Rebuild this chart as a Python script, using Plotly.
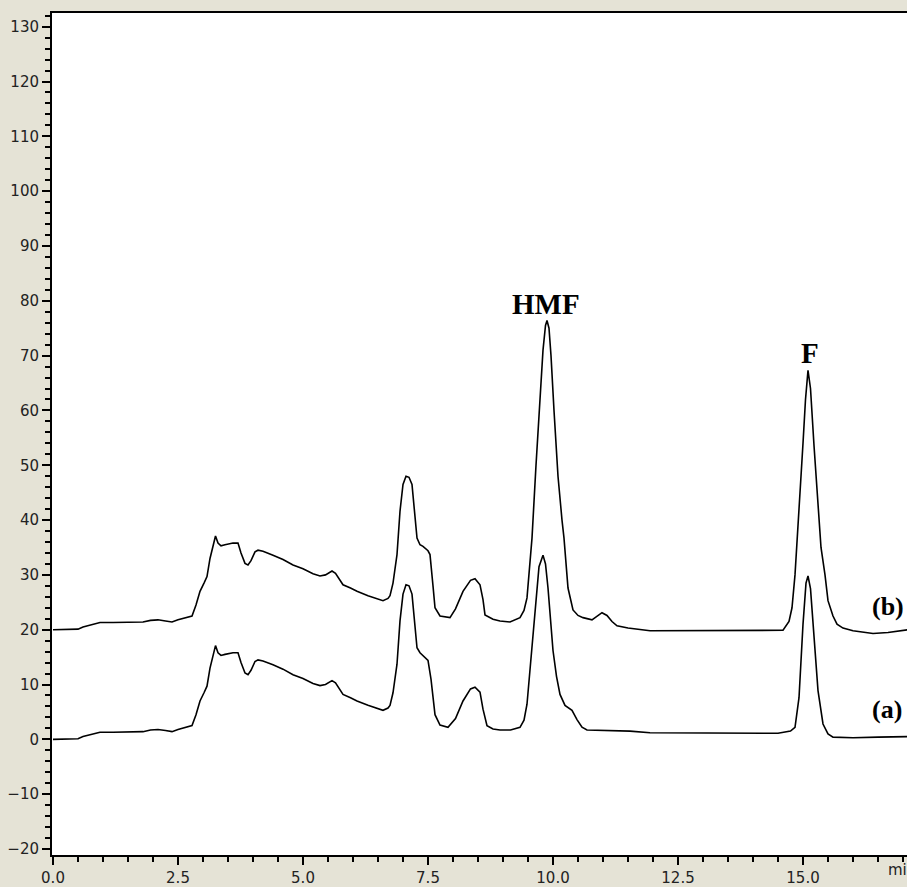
import plotly.graph_objects as go

# Retention time (min) and detector response for sample (a)
time_a = [0.0, 0.5, 0.6, 0.75, 0.94, 1.2, 1.5, 1.8, 1.95, 2.1, 2.25, 2.38, 2.5, 2.64, 2.78,
          2.86, 2.94, 3.02, 3.08, 3.14, 3.2, 3.25, 3.3, 3.36, 3.44, 3.6, 3.7, 3.76, 3.84, 3.9,
          3.96, 4.04, 4.1, 4.2, 4.4, 4.6, 4.8, 5.0, 5.2, 5.34, 5.45, 5.58, 5.65, 5.8, 5.95,
          6.08, 6.3, 6.5, 6.6, 6.7, 6.74, 6.8, 6.88, 6.94, 7.0, 7.06, 7.12, 7.18, 7.24, 7.28,
          7.34, 7.4, 7.5, 7.56, 7.64, 7.74, 7.9, 8.05, 8.2, 8.35, 8.44, 8.54, 8.6, 8.68, 8.8,
          8.94, 9.15, 9.34, 9.42, 9.48, 9.56, 9.64, 9.72, 9.8, 9.85, 9.9, 9.95, 10.0, 10.07,
          10.14, 10.24, 10.38, 10.48, 10.58, 10.68, 11.0, 11.54, 11.94, 12.5, 13.0, 13.5, 14.0,
          14.5, 14.75, 14.84, 14.92, 15.0, 15.06, 15.1, 15.15, 15.2, 15.3, 15.4, 15.5, 15.6,
          16.0, 16.5, 17.1]
signal_a = [0.0, 0.1, 0.5, 0.9, 1.3, 1.3, 1.3, 1.4, 1.7, 1.8, 1.6, 1.4, 1.8, 2.2, 2.5,
            4.5, 7.0, 8.5, 9.7, 13.0, 15.5, 17.1, 15.8, 15.3, 15.5, 15.8, 15.8, 14.0, 12.1, 11.8,
            12.6, 14.2, 14.5, 14.3, 13.6, 12.8, 11.8, 11.1, 10.2, 9.8, 10.0, 10.7, 10.3, 8.2, 7.6,
            7.0, 6.2, 5.6, 5.3, 5.7, 6.2, 8.5, 13.7, 21.6, 26.5, 28.2, 28.0, 26.5, 21.0, 16.7,
            15.8, 15.2, 14.4, 11.0, 4.5, 2.6, 2.2, 3.8, 7.0, 9.2, 9.5, 8.6, 5.5, 2.5, 1.9,
            1.7, 1.7, 2.2, 3.5, 6.4, 15.0, 24.5, 31.5, 33.6, 32.0, 27.6, 22.0, 16.2, 11.5,
            8.2, 6.2, 5.3, 3.6, 2.2, 1.7, 1.6, 1.5, 1.2, 1.2, 1.2, 1.1, 1.1,
            1.1, 1.5, 2.2, 7.6, 21.0, 28.5, 29.8, 27.5, 21.0, 8.9, 2.8, 1.0, 0.4,
            0.3, 0.4, 0.5]

# Retention time (min) and detector response for sample (b)
time_b = [0.0, 0.5, 0.6, 0.75, 0.94, 1.2, 1.5, 1.8, 1.95, 2.1, 2.25, 2.38, 2.5, 2.64, 2.78,
          2.86, 2.94, 3.02, 3.08, 3.14, 3.2, 3.25, 3.3, 3.36, 3.44, 3.6, 3.7, 3.76, 3.84, 3.9,
          3.96, 4.04, 4.1, 4.2, 4.4, 4.6, 4.8, 5.0, 5.2, 5.34, 5.45, 5.58, 5.65, 5.8, 5.95,
          6.08, 6.3, 6.5, 6.6, 6.7, 6.74, 6.8, 6.88, 6.94, 7.0, 7.06, 7.12, 7.18, 7.24, 7.28,
          7.34, 7.4, 7.5, 7.54, 7.6, 7.64, 7.74, 7.94, 8.05, 8.2, 8.35, 8.44, 8.54, 8.6, 8.64,
          8.8, 8.94, 9.14, 9.34, 9.42, 9.48, 9.58, 9.66, 9.74, 9.8, 9.85, 9.88, 9.92, 9.96,
          10.02, 10.1, 10.18, 10.22, 10.3, 10.4, 10.5, 10.6, 10.78, 10.9, 10.98, 11.08, 11.18,
          11.28, 11.5, 11.94, 12.5, 13.0, 13.5, 14.0, 14.6, 14.72, 14.78, 14.84, 14.9, 14.96,
          15.0, 15.05, 15.1, 15.15, 15.22, 15.3, 15.36, 15.44, 15.5, 15.6, 15.68, 15.8, 16.0,
          16.4, 16.7, 17.1]
signal_b = [20.0, 20.1, 20.5, 20.9, 21.3, 21.3, 21.3, 21.4, 21.7, 21.8, 21.6, 21.4, 21.8, 22.2, 22.5,
            24.5, 27.0, 28.5, 29.7, 33.0, 35.5, 37.1, 35.8, 35.3, 35.5, 35.8, 35.8, 34.0, 32.1, 31.8,
            32.6, 34.2, 34.5, 34.3, 33.6, 32.8, 31.8, 31.1, 30.2, 29.8, 30.0, 30.7, 30.3, 28.2, 27.6,
            27.0, 26.2, 25.6, 25.3, 25.7, 26.2, 28.5, 33.7, 41.6, 46.5, 48.0, 47.8, 46.5, 41.0, 36.7,
            35.5, 35.2, 34.4, 33.7, 28.0, 24.0, 22.5, 22.2, 23.8, 27.0, 29.0, 29.3, 28.2, 25.5, 22.7,
            21.9, 21.6, 21.4, 22.2, 23.5, 25.8, 36.7, 50.0, 62.0, 71.0, 75.5, 76.4, 75.0, 70.0,
            60.0, 48.0, 40.0, 36.7, 27.6, 23.6, 22.6, 22.2, 21.8, 22.5, 23.1, 22.6, 21.5,
            20.7, 20.3, 19.8, 19.8, 19.8, 19.8, 19.8, 19.9, 21.5, 24.0, 30.0, 38.0, 48.0,
            54.0, 62.0, 67.3, 64.0, 53.6, 42.0, 35.0, 30.0, 25.3, 22.5, 21.0, 20.3, 19.8,
            19.3, 19.5, 20.0]

peak_labels = ["HMF", "F"]
peak_label_x = [9.86, 15.14]
peak_label_y = [79.5, 70.4]
trace_labels = ["(b)", "(a)"]
trace_label_x = [16.34, 16.34]
trace_label_y = [24.3, 5.4]

BEIGE = "#E5E3D6"
tick_font = dict(family="DejaVu Sans", size=15, color="#222222")

fig = go.Figure()
fig.add_trace(go.Scatter(x=time_a, y=signal_a, mode="lines",
                         line=dict(color="black", width=1.6), showlegend=False))
fig.add_trace(go.Scatter(x=time_b, y=signal_b, mode="lines",
                         line=dict(color="black", width=1.6), showlegend=False))

for txt, x, y in zip(peak_labels, peak_label_x, peak_label_y):
    fig.add_annotation(x=x, y=y, text="<b>%s</b>" % txt, showarrow=False,
                       font=dict(family="Liberation Serif", size=29, color="black"))
for txt, x, y in zip(trace_labels, trace_label_x, trace_label_y):
    fig.add_annotation(x=x, y=y, text="<b>%s</b>" % txt, showarrow=False, xanchor="left",
                       font=dict(family="Liberation Serif", size=26, color="black"))

fig.add_annotation(x=16.66, xref="x", y=0, yref="paper", text="min", showarrow=False,
                   xanchor="left", yanchor="top", yshift=-4, font=tick_font)

fig.update_layout(
    width=907, height=887,
    margin=dict(l=52, r=0, t=13, b=29),
    paper_bgcolor=BEIGE, plot_bgcolor="white",
    xaxis=dict(range=[-0.02, 17.08], tick0=0, dtick=2.5, tickformat=".1f",
               ticks="outside", ticklen=8, tickwidth=1.5, tickcolor="black",
               showline=True, linecolor="black", linewidth=2, mirror=True,
               showgrid=False, zeroline=False, tickfont=tick_font,
               minor=dict(dtick=0.5, ticks="outside", ticklen=5, tickwidth=1.5,
                          tickcolor="black", showgrid=False)),
    yaxis=dict(range=[-21.1, 132.5], tick0=0, dtick=10,
               ticks="outside", ticklen=8, tickwidth=1.5, tickcolor="black",
               showline=True, linecolor="black", linewidth=2,
               showgrid=False, zeroline=False, tickfont=tick_font,
               minor=dict(dtick=2, ticks="outside", ticklen=5, tickwidth=1.5,
                          tickcolor="black", showgrid=False)),
)

fig.write_html("out.html", config={"displayModeBar": False},
               post_script="document.body.style.margin='0';document.body.style.overflow='hidden';")
